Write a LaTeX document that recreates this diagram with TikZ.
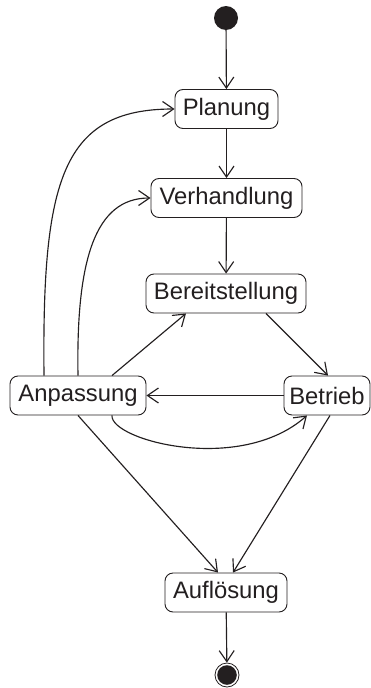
\documentclass[tikz,border=0pt]{standalone}
\usepackage{fontspec}
\setmainfont{Liberation Sans}
\usetikzlibrary{arrows.meta}
\definecolor{ink}{HTML}{231F20}
\begin{document}
\begin{tikzpicture}[x=1pt,y=-1pt,
  state/.style={draw=ink, line width=0.9pt, rounded corners=8pt, fill=white,
    inner sep=0pt, minimum height=39pt, text=ink,
    font=\fontsize{23.8}{24}\selectfont},
  trans/.style={draw=ink, line width=1.15pt,
    -{Straight Barb[length=11pt,width=15pt,line width=1.15pt]}},
]
\useasboundingbox (0,0) rectangle (371,688);

% states
\node[state, minimum width=103pt] (plan)   at (226.5,109)   {Planung};
\node[state, minimum width=151pt] (verh)   at (226.5,198)   {Verhandlung};
\node[state, minimum width=160pt] (bereit) at (226,293.5)   {Bereitstellung};
\node[state, minimum width=136pt] (anp)    at (78,395.5)    {Anpassung};
\node[state, minimum width=86pt]  (betr)   at (327,395.5)   {Betrieb};
\node[state, minimum width=122pt] (aufl)   at (226,592.5)   {Auflösung};

% pseudo states
\node[circle, fill=ink, minimum size=24pt, inner sep=0pt] (init) at (226,18) {};
\node[circle, draw=ink, line width=0.8pt, minimum size=24pt, inner sep=0pt] (fin) at (227,675) {};
\fill[ink] (fin.center) circle (9.8pt);

% transitions
\draw[trans] (init) -- (plan);
\draw[trans] (plan) -- (verh);
\draw[trans] (verh) -- (bereit);
\draw[trans] ([xshift=40pt]bereit.south) -- ([xshift=1pt]betr.north);
\draw[trans] ([xshift=34pt]anp.north) -- ([xshift=-40pt]bereit.south);
\draw[trans] (betr.west) -- (anp.east);
\draw[trans] ([xshift=-34pt]anp.north) .. controls (42,180) and (62,109) .. (plan.west);
\draw[trans] (anp.north) .. controls (76,260) and (95,198) .. (verh.west);
\draw[trans] ([xshift=34pt]anp.south) .. controls (110,440) and (240,475) .. ([xshift=-20pt]betr.south);
\draw[trans] (anp.south) -- ([xshift=-8pt]aufl.north);
\draw[trans] ([xshift=3pt]betr.south) -- ([xshift=7pt]aufl.north);
\draw[trans] (aufl) -- (fin);
\end{tikzpicture}
\end{document}
